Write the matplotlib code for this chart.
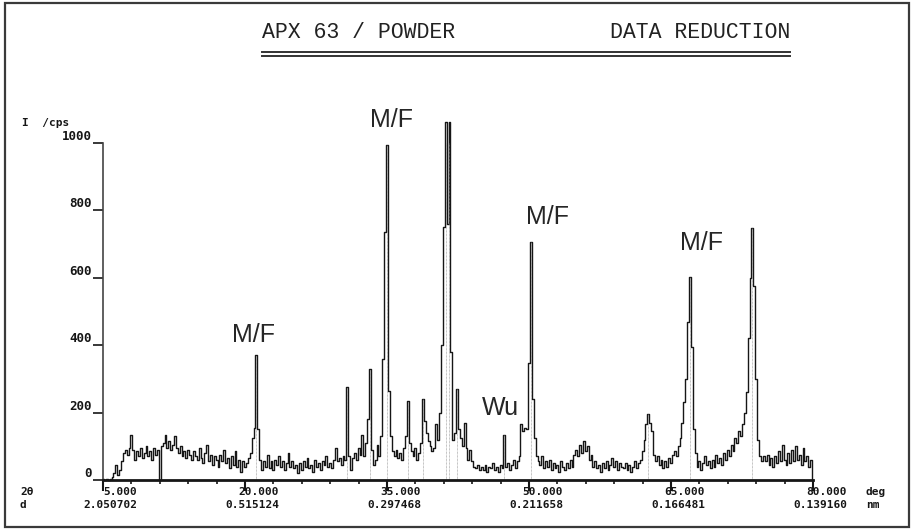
import matplotlib
matplotlib.use("Agg")
import matplotlib.pyplot as plt
import numpy as np
from matplotlib.lines import Line2D
from matplotlib.patches import Rectangle
from matplotlib.ticker import FixedLocator, MultipleLocator
import matplotlib.transforms as mtransforms


# scan: 2theta from 5 to 80 deg, 0.2 deg steps (readings)
SCAN_START = 5.0
SCAN_STEP = 0.2

counts_05_10 = [2, 0, 3, 0, 4, 8, 20, 45, 15, 30, 55, 80, 90, 75, 95, 135, 90, 60, 85, 70, 95, 65, 80, 100, 70]
counts_10_15 = [85, 60, 95, 75, 90, 0, 100, 110, 135, 95, 115, 90, 105, 130, 95, 80, 100, 70, 85, 65, 90, 75, 60, 85, 70]
counts_15_20 = [60, 95, 65, 50, 80, 105, 55, 75, 45, 70, 60, 40, 75, 55, 90, 50, 65, 35, 70, 45, 85, 40, 60, 25, 55]
counts_20_25 = [40, 50, 65, 80, 125, 155, 370, 150, 60, 30, 55, 40, 75, 35, 55, 30, 60, 45, 70, 40, 55, 30, 50, 80, 40]
counts_25_30 = [55, 35, 45, 20, 50, 30, 55, 40, 65, 35, 45, 25, 60, 40, 50, 30, 55, 45, 70, 40, 50, 35, 60, 95, 55]
counts_30_35 = [65, 45, 70, 60, 275, 70, 30, 65, 80, 60, 95, 75, 135, 70, 110, 180, 330, 90, 45, 60, 105, 70, 130, 360, 735]
counts_35_40 = [994, 265, 130, 85, 70, 90, 65, 80, 60, 95, 130, 235, 110, 85, 70, 95, 60, 80, 110, 240, 175, 140, 115, 100, 85]
counts_40_45 = [95, 165, 120, 200, 400, 750, 1062, 760, 1062, 380, 120, 140, 270, 150, 125, 100, 170, 95, 60, 90, 55, 40, 35, 45, 30]
counts_45_50 = [40, 30, 45, 25, 40, 35, 50, 30, 40, 25, 45, 35, 135, 40, 50, 30, 45, 60, 35, 55, 70, 165, 145, 155, 150]
counts_50_55 = [347, 706, 240, 125, 70, 55, 45, 70, 35, 55, 40, 60, 30, 50, 35, 45, 25, 55, 40, 30, 50, 35, 60, 40, 75]
counts_55_60 = [90, 70, 105, 80, 115, 85, 100, 60, 75, 40, 55, 35, 45, 25, 50, 35, 55, 30, 45, 65, 40, 55, 30, 50, 40]
counts_60_65 = [35, 50, 30, 45, 25, 40, 55, 35, 50, 60, 85, 120, 165, 195, 170, 145, 75, 55, 70, 45, 60, 35, 55, 40, 65]
counts_65_70 = [50, 75, 85, 70, 100, 125, 170, 230, 300, 470, 603, 395, 150, 80, 40, 55, 30, 50, 70, 45, 55, 35, 60, 40, 75]
counts_70_75 = [50, 65, 45, 80, 60, 90, 70, 105, 85, 125, 110, 145, 130, 165, 200, 260, 420, 600, 748, 575, 300, 120, 70, 55, 70]
counts_75_80 = [55, 75, 45, 65, 40, 70, 50, 85, 55, 105, 60, 45, 80, 50, 90, 55, 100, 60, 75, 45, 95, 55, 70, 40, 60, 0]

# peak marker lines drawn down to the baseline
marker_pos = [21.2, 30.8, 33.2, 35.0, 37.2, 38.8, 41.2, 41.6, 42.4, 47.4, 50.2, 62.6, 67.0, 73.6]

x_major = [5, 20, 35, 50, 65, 80]
x_labels = ["5.000", "20.000", "35.000", "50.000", "65.000", "80.000"]
d_labels = ["2.050702", "0.515124", "0.297468", "0.211658", "0.166481", "0.139160"]
y_major = [0, 200, 400, 600, 800, 1000]
y_labels = ["0", "200", "400", "600", "800", "1000"]

notes = ["M/F", "M/F", "Wu", "M/F", "M/F"]
note_x = [20.9, 35.5, 47.0, 52.0, 68.2]
note_y = [430, 1068, 214, 780, 703]

W, H = 912, 530
INK = "#161616"
MONO = "DejaVu Sans Mono"
ROW1, ROW2 = 492, 505


def fx(px):
    return px / W


def fy(py):
    return 1 - py / H


def main() -> None:
    counts = np.array(
        counts_05_10 + counts_10_15 + counts_15_20 + counts_20_25 + counts_25_30
        + counts_30_35 + counts_35_40 + counts_40_45 + counts_45_50 + counts_50_55
        + counts_55_60 + counts_60_65 + counts_65_70 + counts_70_75 + counts_75_80,
        dtype=float,
    )
    two_theta = SCAN_START + SCAN_STEP * np.arange(len(counts))

    fig = plt.figure(figsize=(W / 100, H / 100), dpi=100, facecolor="white")
    ax = fig.add_axes([fx(103), fy(480), fx(813) - fx(103), fy(143) - fy(480)])

    ax.plot(two_theta, counts, drawstyle="steps-mid", lw=1.0, color=INK, clip_on=False)
    idx = [int(round((p - SCAN_START) / SCAN_STEP)) for p in marker_pos]
    ax.vlines(marker_pos, 0, counts[idx], color="#8a8a8a", lw=0.5, linestyles=(0, (1, 1)))

    ax.set_xlim(5, 80)
    ax.set_ylim(0, 1000)
    for side in ("top", "right"):
        ax.spines[side].set_visible(False)
    ax.spines["bottom"].set_linewidth(2.0)
    ax.spines["bottom"].set_color(INK)
    ax.spines["left"].set_linewidth(1.2)
    ax.spines["left"].set_color("#444444")
    ax.spines["left"].set_linestyle((0, (2, 1)))

    ax.xaxis.set_major_locator(FixedLocator(x_major))
    ax.xaxis.set_minor_locator(MultipleLocator(3, offset=2))
    ax.tick_params(axis="x", which="major", direction="out", length=8, width=1.5, color=INK, labelbottom=False)
    ax.tick_params(axis="x", which="minor", direction="out", length=3, width=1.2, color=INK)

    ax.yaxis.set_major_locator(FixedLocator(y_major))
    ax.set_yticklabels(y_labels, fontfamily=MONO, fontweight="bold", fontsize=9, color=INK)
    ax.tick_params(axis="y", direction="out", length=7, width=1.2, color=INK, pad=1)
    for lab in ax.get_yticklabels():
        lab.set_va("bottom")

    txt = dict(fontfamily=MONO, fontweight="bold", fontsize=8, color=INK)

    # two-row x tick labels, right edge a few chars past the tick
    shift = mtransforms.ScaledTranslation(34 / 100, 0, fig.dpi_scale_trans)
    trans = mtransforms.blended_transform_factory(ax.transData, fig.transFigure) + shift
    for xv, a, d in zip(x_major, x_labels, d_labels):
        ax.text(xv, fy(ROW1), a, transform=trans, ha="right", va="center", clip_on=False, **txt)
        ax.text(xv, fy(ROW2), d, transform=trans, ha="right", va="center", clip_on=False, **txt)

    fig.text(fx(20), fy(ROW1), "2θ", ha="left", va="center", **txt)
    fig.text(fx(20), fy(ROW2), "d", ha="left", va="center", **txt)
    fig.text(fx(866), fy(ROW1), "deg", ha="left", va="center", **txt)
    fig.text(fx(866), fy(ROW2), "nm", ha="left", va="center", **txt)
    fig.text(fx(22), fy(123), "I  /cps", ha="left", va="center", **txt)

    for s, xv, yv in zip(notes, note_x, note_y):
        ax.text(xv, yv, s, ha="center", va="center", fontfamily="Liberation Sans",
                fontsize=18, color="#262626", clip_on=False)

    # header
    head = dict(fontfamily="Liberation Mono", fontsize=15.5, color="#222222", va="center")
    fig.text(fx(262), fy(33), "APX 63 / POWDER", ha="left", **head)
    fig.text(fx(610), fy(33), "DATA REDUCTION", ha="left", **head)
    for yy in (52, 56):
        fig.add_artist(Line2D([fx(262), fx(790)], [fy(yy), fy(yy)], lw=1.4, color="#333333"))

    # page frame of the scan
    fig.add_artist(Rectangle((fx(5), fy(527)), fx(909) - fx(5), fy(3) - fy(527),
                             fill=False, lw=1.6, edgecolor="#3a3a3a"))

    fig.savefig("out.png", dpi=100, facecolor="white")
    plt.close(fig)


if __name__ == "__main__":
    main()
